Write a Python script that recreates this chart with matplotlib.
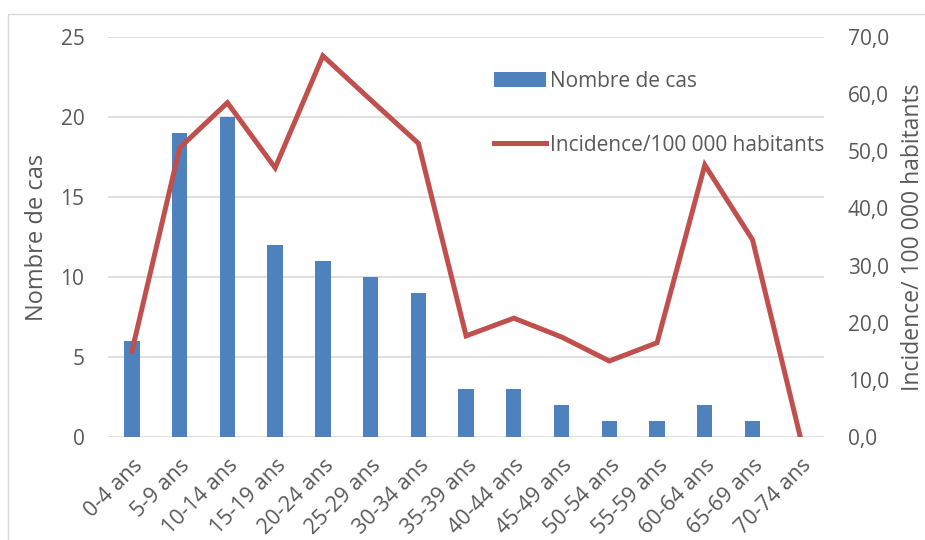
import numpy as np
import matplotlib.pyplot as plt
from matplotlib.ticker import FuncFormatter
from matplotlib.patches import Rectangle

plt.rcParams['font.family'] = ['Open Sans', 'DejaVu Sans']

groupes = ['0-4 ans', '5-9 ans', '10-14 ans', '15-19 ans', '20-24 ans', '25-29 ans',
           '30-34 ans', '35-39 ans', '40-44 ans', '45-49 ans', '50-54 ans', '55-59 ans',
           '60-64 ans', '65-69 ans', '70-74 ans']
nb_cas = [6, 19, 20, 12, 11, 10, 9, 3, 3, 2, 1, 1, 2, 1, 0]
incidence = [15.0, 50.6, 58.5, 47.1, 66.7, 59.0, 51.4, 17.7, 20.8, 17.5, 13.3, 16.5, 47.6, 34.5, 0.0]

gris = '#595959'
bleu = '#4f81bd'
rouge = '#c0504d'

fig = plt.figure(figsize=(9.25, 5.4), dpi=100)
ax = fig.add_axes([0.1168, 0.1907, 0.7742, 0.7408])
x = np.arange(len(groupes))

# cadre du graphique
fig.patches.append(Rectangle((8/925, -0.1), 1.2, 1.1 - 14/540, transform=fig.transFigure,
                             fill=False, edgecolor='#d9d9d9', linewidth=1, zorder=0))

ax.bar(x, nb_cas, width=0.32, color=bleu, label='Nombre de cas', zorder=2)
ax.set_ylim(0, 25)
ax.set_xlim(-0.5, len(groupes) - 0.5)
ax.set_yticks(range(0, 26, 5))
ax.grid(axis='y', color='#d9d9d9', linewidth=1.2, zorder=0)
ax.set_axisbelow(True)
for s in ax.spines.values():
    s.set_visible(False)
ax.tick_params(length=0, colors=gris)
ax.tick_params(axis='y', pad=17, labelsize=15)
ax.tick_params(axis='x', pad=13, labelsize=15.5)
ax.set_xticks(x)
ax.set_xticklabels(groupes, rotation=45, ha='right', rotation_mode='anchor')
ax.set_ylabel('Nombre de cas', fontsize=17, color=gris, labelpad=8)

ax2 = ax.twinx()
ax2.plot(x, incidence, color=rouge, linewidth=3.6, label='Incidence/100 000 habitants',
         solid_joinstyle='miter', zorder=3)
ax2.set_ylim(0, 70)
ax2.set_yticks(range(0, 71, 10))
ax2.yaxis.set_major_formatter(FuncFormatter(lambda v, p: f'{v:.1f}'.replace('.', ',')))
for s in ax2.spines.values():
    s.set_visible(False)
ax2.tick_params(length=0, colors=gris, labelsize=15, pad=17)
ax2.set_ylabel('Incidence/ 100 000 habitants', fontsize=16.5, color=gris, labelpad=9)

h1, l1 = ax.get_legend_handles_labels()
h2, l2 = ax2.get_legend_handles_labels()
leg = ax2.legend(h1 + h2, l1 + l2, loc='upper left', bbox_to_anchor=(0.513, 0.962),
                 frameon=False, fontsize=15, labelspacing=2.05, handlelength=2.5,
                 handletextpad=0.2, handleheight=0.7)
for t in leg.get_texts():
    t.set_color(gris)

fig.savefig('out.png', dpi=100)
